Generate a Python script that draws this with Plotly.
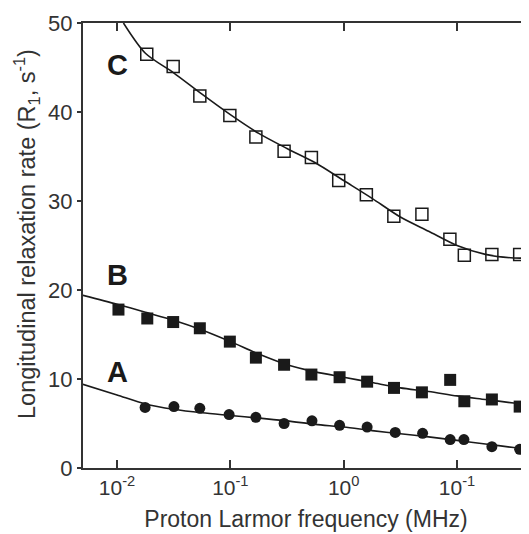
import plotly.graph_objects as go

# ---- measured data (frequency in MHz, R1 in s^-1) ----
freq_A = [0.0177, 0.0318, 0.0538, 0.0975, 0.168, 0.298, 0.525, 0.92, 1.61, 2.85, 4.97, 8.7, 11.5, 20.3, 35.7]
r1_A = [6.8, 6.9, 6.7, 6.0, 5.7, 5.0, 5.3, 4.8, 4.6, 4.0, 3.9, 3.2, 3.2, 2.4, 2.1]

freq_B = [0.0103, 0.0185, 0.0313, 0.0538, 0.099, 0.168, 0.298, 0.519, 0.92, 1.61, 2.78, 4.9, 8.7, 11.6, 20.3, 35.7]
r1_B = [17.8, 16.8, 16.4, 15.7, 14.2, 12.4, 11.6, 10.5, 10.2, 9.7, 9.0, 8.5, 9.9, 7.5, 7.7, 6.9]

freq_C = [0.0183, 0.0313, 0.0538, 0.099, 0.168, 0.298, 0.519, 0.904, 1.585, 2.77, 4.9, 8.65, 11.6, 20.3, 35.7]
r1_C = [46.5, 45.1, 41.8, 39.6, 37.2, 35.6, 34.9, 32.3, 30.7, 28.3, 28.5, 25.7, 23.9, 24.0, 24.0]

# ---- fitted curves ----
fit_freq = [0.005, 0.01, 0.0178, 0.0316, 0.0562, 0.1, 0.178, 0.316, 0.562, 1.0, 1.78, 3.16, 5.62, 10.0, 17.8, 31.6, 43.2]
fit_A = [9.4, 8.2, 7.2, 6.6, 6.2, 5.9, 5.6, 5.3, 4.9, 4.6, 4.2, 3.85, 3.5, 3.1, 2.7, 2.3, 2.1]
fit_B = [19.4, 18.4, 17.5, 16.6, 15.5, 14.2, 12.8, 11.6, 10.8, 10.2, 9.6, 9.0, 8.6, 8.1, 7.7, 7.3, 7.1]

fit_freq_C = [0.0114, 0.0178, 0.0316, 0.0562, 0.1, 0.178, 0.316, 0.562, 1.0, 1.78, 3.16, 5.62, 10.0, 17.8, 31.6, 43.2]
fit_C = [50.0, 46.6, 44.4, 42.0, 39.7, 37.6, 35.9, 34.3, 32.3, 30.3, 28.2, 26.6, 25.0, 24.0, 23.6, 23.6]

tick_vals = [0.01, 0.1, 1, 10]
tick_text = ["10<sup>-2</sup>", "10<sup>-1</sup>", "10<sup>0</sup>", "10<sup>-1</sup>"]

panel_labels = ["A", "B", "C"]
panel_label_y = [10.8, 21.7, 45.3]
panel_label_logx = [-2.0, -2.0, -2.0]   # log10(MHz), annotation coords on a log axis

FONT = "Liberation Sans, Arial, Helvetica, sans-serif"
INK = "#1a1a1a"

fig = go.Figure()

for fx, fy in [(fit_freq, fit_A), (fit_freq, fit_B), (fit_freq_C, fit_C)]:
    fig.add_trace(go.Scatter(x=fx, y=fy, mode="lines",
                             line=dict(color=INK, width=1.6, shape="spline", smoothing=0.8),
                             showlegend=False, hoverinfo="skip"))

fig.add_trace(go.Scatter(x=freq_A, y=r1_A, mode="markers",
                         marker=dict(symbol="circle", size=11, color=INK),
                         showlegend=False))
fig.add_trace(go.Scatter(x=freq_B, y=r1_B, mode="markers",
                         marker=dict(symbol="square", size=12, color=INK),
                         showlegend=False))
fig.add_trace(go.Scatter(x=freq_C, y=r1_C, mode="markers",
                         marker=dict(symbol="square-open", size=12, color=INK,
                                     line=dict(width=1.5, color=INK)),
                         showlegend=False))

for lab, lx, ly in zip(panel_labels, panel_label_logx, panel_label_y):
    fig.add_annotation(x=lx, y=ly, xref="x", yref="y", text="<b>%s</b>" % lab,
                       showarrow=False, font=dict(family=FONT, size=29, color=INK),
                       xanchor="center", yanchor="middle")

# y-axis title as a rotated annotation
fig.add_annotation(x=-57 / 446, y=(445 - 211) / 445, xref="paper", yref="paper",
                   text="Longitudinal relaxation rate (R<sub>1</sub>, s<sup>-1</sup>)",
                   textangle=-90, showarrow=False,
                   font=dict(family=FONT, size=23.5, color="#333"),
                   xanchor="center", yanchor="middle")

fig.update_layout(
    width=521, height=526,
    margin=dict(l=75, r=0, t=15, b=66),
    paper_bgcolor="white", plot_bgcolor="white",
    font=dict(family=FONT, color="#333", size=21),
    xaxis=dict(
        type="log", range=[-2.300, 1.635],
        tickvals=tick_vals, ticktext=tick_text,
        ticks="inside", ticklen=8, tickwidth=1.5, tickcolor="#333",
        showline=True, linecolor="#333", linewidth=2, mirror="ticks",
        showgrid=False, zeroline=False,
        tickfont=dict(family=FONT, size=21, color="#333"),
        title=dict(text="Proton Larmor frequency (MHz)", standoff=13,
                   font=dict(family=FONT, size=23, color="#333")),
    ),
    yaxis=dict(
        range=[0, 50], tickvals=[0, 10, 20, 30, 40, 50],
        ticks="outside", ticklen=4, tickwidth=1.5, tickcolor="#333",
        showline=True, linecolor="#333", linewidth=2, mirror=False,
        showgrid=False, zeroline=False,
        tickfont=dict(family=FONT, size=22, color="#333"),
    ),
    yaxis2=dict(
        overlaying="y", side="right", range=[0, 50],
        tickvals=[10, 20, 30, 40], ticks="inside", ticklen=3, tickwidth=1,
        tickcolor="#888", showticklabels=False, showline=False,
        showgrid=False, zeroline=False,
    ),
)

fig.add_trace(go.Scatter(x=[None], y=[None], yaxis="y2", showlegend=False, hoverinfo="skip"))

fig.write_html("out.html")
